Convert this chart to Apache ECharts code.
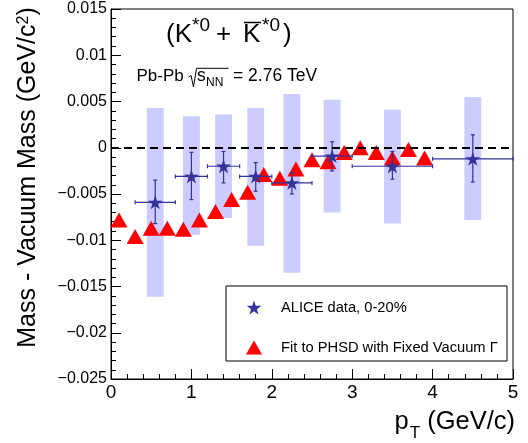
<!DOCTYPE html>
<html>
<head>
<meta charset="utf-8">
<script src="https://cdn.jsdelivr.net/npm/echarts@6/dist/echarts.min.js"></script>
<style>
html,body{margin:0;padding:0;background:#fff;}
#chart{width:528px;height:443px;}
</style>
</head>
<body>
<div id="chart"></div>
<script>
// ---- data ----
const xTickLabels = ['0', '1', '2', '3', '4', '5'];
const yTickLabels = ['-0.025', '-0.02', '-0.015', '-0.01', '-0.005', '0', '0.005', '0.01', '0.015'];

// ALICE data, 0-20%
const aliceX     = [0.55, 1.0, 1.4, 1.8, 2.25, 2.75, 3.5, 4.5];
const aliceY     = [-0.0059, -0.0031, -0.0020, -0.0031, -0.0038, -0.0009, -0.0020, -0.0012];
const aliceXLow  = [0.3, 0.8, 1.2, 1.6, 2.0, 2.5, 3.0, 4.0];
const aliceXHigh = [0.8, 1.2, 1.6, 2.0, 2.5, 3.0, 4.0, 5.0];
const aliceStatLow  = [-0.0082, -0.0056, -0.0038, -0.0047, -0.0050, -0.0025, -0.0034, -0.0037];
const aliceStatHigh = [-0.0035, -0.0005, -0.0004, -0.0016, -0.0027, 0.00065, -0.0004, 0.0014];
const aliceSysLow   = [-0.0161, -0.0094, -0.0076, -0.0106, -0.0135, -0.0070, -0.0082, -0.0078];
const aliceSysHigh  = [0.0043, 0.0034, 0.0036, 0.0043, 0.0058, 0.0052, 0.0041, 0.0055];

// Fit to PHSD with Fixed Vacuum Gamma
const phsdX = [0.1, 0.3, 0.5, 0.7, 0.9, 1.1, 1.3, 1.5, 1.7, 1.9, 2.1, 2.3, 2.5, 2.7, 2.9, 3.1, 3.3, 3.5, 3.7, 3.9];
const phsdY = [-0.0078, -0.0096, -0.0087, -0.0087, -0.0088, -0.0078, -0.0069, -0.0056, -0.0048, -0.0029,
               -0.0033, -0.0023, -0.0013, -0.0015, -0.0005, 0.0000, -0.0005, -0.0011, -0.0002, -0.0011];

const seriesNames = ['ALICE data, 0-20%', 'Fit to PHSD with Fixed Vacuum \u0393'];

// ---- chart ----
const FONT = '"Liberation Sans", Arial, Helvetica, sans-serif';
const STAR = 'path://M50,0 L61.2,34.5 L97.6,34.5 L68.2,55.9 L79.4,90.5 L50,69.1 L20.6,90.5 L31.8,55.9 L2.4,34.5 L38.8,34.5 Z';
const BLUE = '#333399';
const BOX_HALF = 0.105;

const chart = echarts.init(document.getElementById('chart'), null, {renderer: 'canvas'});

const sysData = aliceX.map((x, i) => [x, aliceSysLow[i], aliceSysHigh[i]]);
const errData = aliceX.map((x, i) => [x, aliceY[i], aliceXLow[i], aliceXHigh[i], aliceStatLow[i], aliceStatHigh[i]]);
const starData = aliceX.map((x, i) => [x, aliceY[i]]);
const triData = phsdX.map((x, i) => [x, phsdY[i]]);

const option = {
  animation: false,
  backgroundColor: '#fff',
  textStyle: {fontFamily: FONT},
  grid: {left: 111, right: 15, top: 9, bottom: 64, show: true, borderColor: '#000', borderWidth: 1},
  xAxis: {
    type: 'value', min: 0, max: 5, interval: 1,
    axisLine: {onZero: false, lineStyle: {color: '#000', width: 1}},
    axisTick: {inside: true, length: 10, lineStyle: {color: '#000'}},
    minorTick: {show: true, splitNumber: 5, length: 5, lineStyle: {color: '#000'}},
    splitLine: {show: false},
    axisLabel: {
      color: '#000', fontSize: 19, fontFamily: FONT, margin: 4,
      formatter: v => xTickLabels[Math.round(v)]
    },
    name: 'p{sub|T} (GeV/c)',
    nameLocation: 'end',
    nameGap: 2,
    nameTextStyle: {
      color: '#000', fontSize: 25.5, fontFamily: FONT, align: 'right', verticalAlign: 'top',
      padding: [30, 0, 0, 0],
      rich: {sub: {fontSize: 17, fontFamily: FONT, verticalAlign: 'bottom', padding: [0, 0, -7, 1]}}
    }
  },
  yAxis: {
    type: 'value', min: -0.025, max: 0.015, interval: 0.005,
    axisLine: {lineStyle: {color: '#000', width: 1}},
    axisTick: {inside: true, length: 10, lineStyle: {color: '#000'}},
    minorTick: {show: true, splitNumber: 5, length: 5, lineStyle: {color: '#000'}},
    splitLine: {show: false},
    axisLabel: {
      color: '#000', fontSize: 16, fontFamily: FONT, margin: 4,
      formatter: v => yTickLabels[Math.round((v + 0.025) / 0.005)].replace('-', '\u2212')
    },
    name: 'Mass - Vacuum Mass (GeV/c{sup|2})',
    nameLocation: 'middle',
    nameRotate: 90,
    nameGap: 70,
    nameTextStyle: {
      color: '#000', fontSize: 25, fontFamily: FONT,
      padding: [0, 0, 0, 33],
      rich: {sup: {fontSize: 16, fontFamily: FONT, verticalAlign: 'top', padding: [0, 0, 4, 0]}}
    }
  },
  legend: {
    orient: 'vertical',
    left: 246, top: 300,
    padding: 0,
    itemWidth: 16, itemHeight: 14, itemGap: 25,
    selectedMode: false,
    textStyle: {color: '#000', fontSize: 14.7, fontFamily: FONT, padding: [0, 0, 0, 14]},
    data: [
      {name: seriesNames[0], icon: STAR, itemStyle: {color: BLUE}},
      {name: seriesNames[1], icon: 'triangle', itemStyle: {color: '#ff0000'}}
    ]
  },
  graphic: [
    {type: 'rect', z: 0, silent: true, shape: {x: 226, y: 286, width: 281, height: 75},
     style: {fill: '#fff', stroke: '#000', lineWidth: 1}},
    // title (K*0 + Kbar*0)
    {type: 'text', x: 166, y: 35, silent: true,
     style: {text: '(K', font: '26px ' + FONT, fill: '#000', verticalAlign: 'middle', align: 'left'}},
    {type: 'text', x: 192, y: 26, silent: true,
     style: {text: '*0', font: '19px ' + FONT, fill: '#000', verticalAlign: 'middle', align: 'left'}},
    {type: 'text', x: 223.5, y: 35, silent: true,
     style: {text: '+', font: '26px ' + FONT, fill: '#000', verticalAlign: 'middle', align: 'center'}},
    {type: 'text', x: 243, y: 35, silent: true,
     style: {text: 'K', font: '26px ' + FONT, fill: '#000', verticalAlign: 'middle', align: 'left'}},
    {type: 'line', silent: true, shape: {x1: 244, y1: 22.5, x2: 261, y2: 22.5}, style: {stroke: '#000', lineWidth: 1.5}},
    {type: 'text', x: 262, y: 26, silent: true,
     style: {text: '*0', font: '19px ' + FONT, fill: '#000', verticalAlign: 'middle', align: 'left'}},
    {type: 'text', x: 283, y: 35, silent: true,
     style: {text: ')', font: '26px ' + FONT, fill: '#000', verticalAlign: 'middle', align: 'left'}},
    // Pb-Pb sqrt(sNN) = 2.76 TeV
    {type: 'text', x: 136.5, y: 76, silent: true,
     style: {text: 'Pb-Pb', font: '17px ' + FONT, fill: '#000', verticalAlign: 'middle', align: 'left'}},
    {type: 'polyline', silent: true,
     shape: {points: [[188.5, 77], [191, 75.5], [193.5, 87], [196.5, 68.3], [228.5, 68.3]]},
     style: {stroke: '#000', lineWidth: 1, fill: null}},
    {type: 'text', x: 197, y: 76, silent: true,
     style: {text: 's', font: '17.5px ' + FONT, fill: '#000', verticalAlign: 'middle', align: 'left'}},
    {type: 'text', x: 206, y: 82.5, silent: true,
     style: {text: 'NN', font: '12px ' + FONT, fill: '#000', verticalAlign: 'middle', align: 'left'}},
    {type: 'text', x: 233, y: 76, silent: true,
     style: {text: '= 2.76 TeV', font: '17.5px ' + FONT, fill: '#000', verticalAlign: 'middle', align: 'left'}}
  ],
  series: [
    {
      type: 'custom', name: 'sys', z: 1, silent: true,
      data: sysData,
      renderItem: function (params, api) {
        const x = api.value(0), lo = api.value(1), hi = api.value(2);
        const p1 = api.coord([x - BOX_HALF, hi]);
        const p2 = api.coord([x + BOX_HALF, lo]);
        return {type: 'rect', shape: {x: p1[0], y: p1[1], width: p2[0] - p1[0], height: p2[1] - p1[1]},
                style: {fill: '#ccccff'}};
      }
    },
    {
      type: 'line', name: 'zero', z: 2, data: [], silent: true,
      markLine: {
        silent: true, symbol: 'none', label: {show: false},
        lineStyle: {color: '#000', type: [8, 5], width: 2},
        data: [{yAxis: 0}]
      }
    },
    {
      type: 'scatter', name: seriesNames[1], z: 3,
      symbol: 'triangle', symbolSize: [17, 15],
      itemStyle: {color: '#ff0000', opacity: 1},
      data: triData
    },
    {
      type: 'custom', name: 'stat', z: 4, silent: true,
      data: errData,
      renderItem: function (params, api) {
        const x = api.value(0), y = api.value(1);
        const xl = api.coord([api.value(2), y]);
        const xh = api.coord([api.value(3), y]);
        const yl = api.coord([x, api.value(4)]);
        const yh = api.coord([x, api.value(5)]);
        const c = 2;
        const st = {stroke: BLUE, lineWidth: 1.2};
        return {type: 'group', children: [
          {type: 'line', shape: {x1: xl[0], y1: xl[1], x2: xh[0], y2: xh[1]}, style: st},
          {type: 'line', shape: {x1: xl[0], y1: xl[1] - c, x2: xl[0], y2: xl[1] + c}, style: st},
          {type: 'line', shape: {x1: xh[0], y1: xh[1] - c, x2: xh[0], y2: xh[1] + c}, style: st},
          {type: 'line', shape: {x1: yl[0], y1: yl[1], x2: yh[0], y2: yh[1]}, style: st},
          {type: 'line', shape: {x1: yl[0] - c, y1: yl[1], x2: yl[0] + c, y2: yl[1]}, style: st},
          {type: 'line', shape: {x1: yh[0] - c, y1: yh[1], x2: yh[0] + c, y2: yh[1]}, style: st}
        ]};
      }
    },
    {
      type: 'scatter', name: seriesNames[0], z: 5,
      symbol: STAR, symbolSize: [15, 14],
      itemStyle: {color: BLUE, opacity: 1},
      data: starData
    }
  ]
};
chart.setOption(option);
</script>
</body>
</html>
